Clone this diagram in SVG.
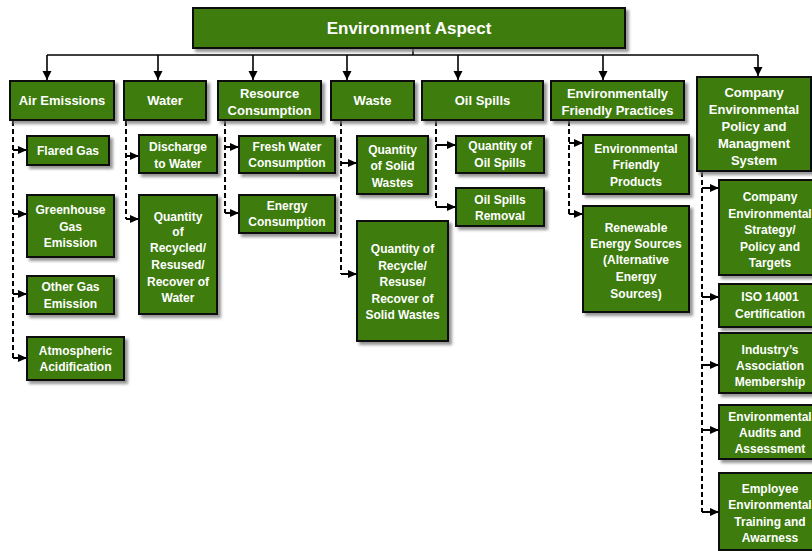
<svg xmlns="http://www.w3.org/2000/svg" width="812" height="551" viewBox="0 0 812 551">
<defs>
<filter id="sh" x="-10%" y="-10%" width="130%" height="130%">
<feDropShadow dx="3" dy="3" stdDeviation="1.5" flood-color="#7a7a7a" flood-opacity="0.8"/>
</filter>
<marker id="ah" markerUnits="userSpaceOnUse" markerWidth="10" markerHeight="10" refX="9" refY="4.5" orient="auto">
<path d="M0,0 L9,4.5 L0,9 z" fill="#000"/>
</marker>
<marker id="as" markerUnits="userSpaceOnUse" markerWidth="10" markerHeight="9" refX="9" refY="4" orient="auto">
<path d="M0,0 L9,4 L0,8 z" fill="#000"/>
</marker>
</defs>
<style>
rect.b{fill:#3e7b07;stroke:#0d0d0d;stroke-width:2;filter:url(#sh)}
text{font-family:"Liberation Sans",Arial,sans-serif;font-weight:bold;fill:#fff;text-anchor:middle}
.t0{font-size:17px}
.t1{font-size:13px}
.t2{font-size:12px}
.solid{fill:none;stroke:#000;stroke-width:1.6}
.dash{fill:none;stroke:#000;stroke-width:1.5;stroke-dasharray:5 3;shape-rendering:crispEdges}
.stub{fill:none;stroke:#000;stroke-width:1.5;shape-rendering:crispEdges}
</style>
<g id="connectors">
<path class="solid" d="M413,48 V55"/>
<path class="solid" d="M47,55 H758"/>
<path class="solid" d="M47,55 V80" marker-end="url(#ah)"/>
<path class="solid" d="M158,55 V80" marker-end="url(#ah)"/>
<path class="solid" d="M253,55 V80" marker-end="url(#ah)"/>
<path class="solid" d="M347,55 V80" marker-end="url(#ah)"/>
<path class="solid" d="M458,55 V80" marker-end="url(#ah)"/>
<path class="solid" d="M603,55 V80" marker-end="url(#ah)"/>
<path class="solid" d="M758,55 V76" marker-end="url(#ah)"/>
<path class="dash" d="M13,121 V358"/>
<path class="stub" d="M13,150 H27" marker-end="url(#as)"/>
<path class="stub" d="M13,214 H27" marker-end="url(#as)"/>
<path class="stub" d="M13,294 H27" marker-end="url(#as)"/>
<path class="stub" d="M13,358 H27" marker-end="url(#as)"/>
<path class="dash" d="M126,121 V219"/>
<path class="stub" d="M126,156 H139" marker-end="url(#as)"/>
<path class="stub" d="M126,219 H139" marker-end="url(#as)"/>
<path class="dash" d="M225,121 V213"/>
<path class="stub" d="M225,147 H239" marker-end="url(#as)"/>
<path class="stub" d="M225,213 H239" marker-end="url(#as)"/>
<path class="dash" d="M341,121 V274"/>
<path class="stub" d="M341,163 H357" marker-end="url(#as)"/>
<path class="stub" d="M341,274 H357" marker-end="url(#as)"/>
<path class="dash" d="M436,121 V207"/>
<path class="stub" d="M436,145 H456" marker-end="url(#as)"/>
<path class="stub" d="M436,207 H456" marker-end="url(#as)"/>
<path class="dash" d="M569,121 V214"/>
<path class="stub" d="M569,143 H583" marker-end="url(#as)"/>
<path class="stub" d="M569,214 H583" marker-end="url(#as)"/>
<path class="dash" d="M702,172 V512"/>
<path class="stub" d="M702,188 H719" marker-end="url(#as)"/>
<path class="stub" d="M702,297 H719" marker-end="url(#as)"/>
<path class="stub" d="M702,365 H719" marker-end="url(#as)"/>
<path class="stub" d="M702,430 H719" marker-end="url(#as)"/>
<path class="stub" d="M702,512 H719" marker-end="url(#as)"/>
</g>
<g id="root"><rect class="b" x="193" y="8" width="432" height="40"/><text class="t0" x="409" y="34">Environment Aspect</text></g>
<g id="air"><rect class="b" x="10" y="81" width="104" height="39"/><text class="t1" x="62" y="105">Air Emissions</text></g>
<g id="water"><rect class="b" x="124" y="81" width="82" height="39"/><text class="t1" x="165" y="105">Water</text></g>
<g id="resource"><rect class="b" x="218" y="81" width="103" height="39"/><text class="t1" x="269.5" y="98">Resource</text><text class="t1" x="269.5" y="115">Consumption</text></g>
<g id="waste"><rect class="b" x="331" y="81" width="83" height="39"/><text class="t1" x="372.5" y="105">Waste</text></g>
<g id="oil"><rect class="b" x="422" y="81" width="121" height="39"/><text class="t1" x="482.5" y="105">Oil Spills</text></g>
<g id="friendly"><rect class="b" x="551" y="81" width="133" height="39"/><text class="t1" x="617.5" y="98">Environmentally</text><text class="t1" x="617.5" y="115">Friendly Practices</text></g>
<g id="company"><rect class="b" x="697" y="77" width="114" height="94"/><text class="t1" x="754" y="97">Company</text><text class="t1" x="754" y="114">Environmental</text><text class="t1" x="754" y="131">Policy and</text><text class="t1" x="754" y="148">Managment</text><text class="t1" x="754" y="165">System</text></g>
<g id="flared"><rect class="b" x="27" y="136" width="82" height="29"/><text class="t2" x="68" y="155">Flared Gas</text></g>
<g id="greenhouse"><rect class="b" x="27" y="195" width="87" height="62"/><text class="t2" x="70.5" y="214">Greenhouse</text><text class="t2" x="70.5" y="231">Gas</text><text class="t2" x="70.5" y="247">Emission</text></g>
<g id="othergas"><rect class="b" x="27" y="276" width="87" height="38"/><text class="t2" x="70.5" y="291">Other Gas</text><text class="t2" x="70.5" y="308">Emission</text></g>
<g id="atmos"><rect class="b" x="27" y="337" width="97" height="43"/><text class="t2" x="75.5" y="355">Atmospheric</text><text class="t2" x="75.5" y="371">Acidification</text></g>
<g id="discharge"><rect class="b" x="139" y="135" width="78" height="38"/><text class="t2" x="178" y="151">Discharge</text><text class="t2" x="178" y="168">to Water</text></g>
<g id="recycledwater"><rect class="b" x="139" y="195" width="78" height="119"/><text class="t2" x="178" y="221">Quantity</text><text class="t2" x="178" y="236">of</text><text class="t2" x="178" y="252">Recycled/</text><text class="t2" x="178" y="269">Resused/</text><text class="t2" x="178" y="286">Recover of</text><text class="t2" x="178" y="302">Water</text></g>
<g id="freshwater"><rect class="b" x="239" y="136" width="96" height="37"/><text class="t2" x="287" y="151">Fresh Water</text><text class="t2" x="287" y="167">Consumption</text></g>
<g id="energy"><rect class="b" x="239" y="195" width="96" height="38"/><text class="t2" x="287" y="210">Energy</text><text class="t2" x="287" y="226">Consumption</text></g>
<g id="solidwastes"><rect class="b" x="357" y="136" width="71" height="58"/><text class="t2" x="392.5" y="154">Quantity</text><text class="t2" x="392.5" y="170">of Solid</text><text class="t2" x="392.5" y="187">Wastes</text></g>
<g id="recyclesolid"><rect class="b" x="357" y="221" width="91" height="120"/><text class="t2" x="402.5" y="253">Quantity of</text><text class="t2" x="402.5" y="270">Recycle/</text><text class="t2" x="402.5" y="286">Resuse/</text><text class="t2" x="402.5" y="303">Recover of</text><text class="t2" x="402.5" y="319">Solid Wastes</text></g>
<g id="qtyoil"><rect class="b" x="456" y="136" width="88" height="37"/><text class="t2" x="500" y="150">Quantity of</text><text class="t2" x="500" y="167">Oil Spills</text></g>
<g id="oilremoval"><rect class="b" x="456" y="188" width="88" height="38"/><text class="t2" x="500" y="204">Oil Spills</text><text class="t2" x="500" y="220">Removal</text></g>
<g id="products"><rect class="b" x="583" y="135" width="106" height="59"/><text class="t2" x="636" y="153">Environmental</text><text class="t2" x="636" y="169">Friendly</text><text class="t2" x="636" y="186">Products</text></g>
<g id="renewable"><rect class="b" x="583" y="206" width="106" height="106"/><text class="t2" x="636" y="232">Renewable</text><text class="t2" x="636" y="248">Energy Sources</text><text class="t2" x="636" y="264">(Alternative</text><text class="t2" x="636" y="281">Energy</text><text class="t2" x="636" y="298">Sources)</text></g>
<g id="strategy"><rect class="b" x="719" y="180" width="102" height="95"/><text class="t2" x="770" y="201">Company</text><text class="t2" x="770" y="218">Environmental</text><text class="t2" x="770" y="234">Strategy/</text><text class="t2" x="770" y="251">Policy and</text><text class="t2" x="770" y="267">Targets</text></g>
<g id="iso"><rect class="b" x="719" y="284" width="102" height="43"/><text class="t2" x="770" y="301">ISO 14001</text><text class="t2" x="770" y="318">Certification</text></g>
<g id="industry"><rect class="b" x="719" y="333" width="102" height="60"/><text class="t2" x="770" y="354">Industry’s</text><text class="t2" x="770" y="370">Association</text><text class="t2" x="770" y="386">Membership</text></g>
<g id="audits"><rect class="b" x="719" y="405" width="102" height="54"/><text class="t2" x="770" y="421">Environmental</text><text class="t2" x="770" y="437">Audits and</text><text class="t2" x="770" y="453">Assessment</text></g>
<g id="employee"><rect class="b" x="719" y="473" width="102" height="77"/><text class="t2" x="770" y="493">Employee</text><text class="t2" x="770" y="509">Environmental</text><text class="t2" x="770" y="526">Training and</text><text class="t2" x="770" y="542">Awarness</text></g>
</svg>
